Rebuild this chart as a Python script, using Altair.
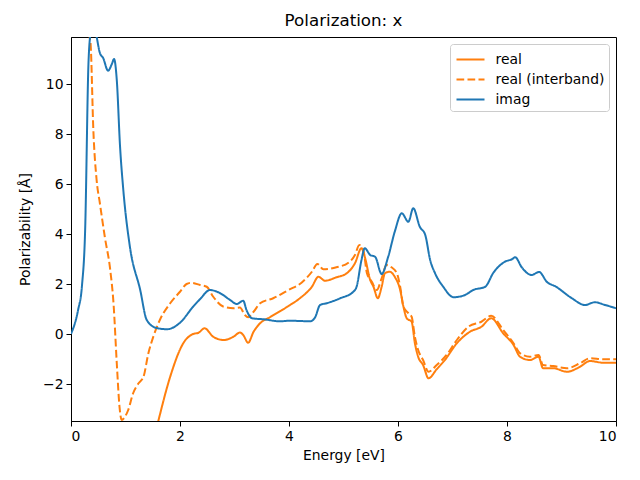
import altair as alt
import pandas as pd

imag_x = [0, 0.13, 0.2, 0.26, 0.32, 0.35, 0.41, 0.47, 0.53, 0.59, 0.68, 0.75, 0.79, 0.84, 0.9, 0.96, 1.08, 1.27, 1.39, 1.57,
          1.76, 2.0, 2.24, 2.37, 2.55, 2.73, 2.92, 3.04, 3.16, 3.22, 3.32, 3.53, 3.83, 4.02, 4.39, 4.48, 4.57, 4.69, 4.94, 5.18,
          5.24, 5.33, 5.39, 5.49, 5.58, 5.7, 5.82, 5.94, 6.07, 6.19, 6.28, 6.4, 6.5, 6.59, 6.68, 6.83, 7.02, 7.23, 7.38, 7.6,
          7.75, 7.96, 8.09, 8.15, 8.27, 8.45, 8.59, 8.73, 8.9, 9.19, 9.43, 9.61, 9.8, 10.0]
imag_y = [0, 0.96, 1.9, 4.2, 10.8, 11.9, 12.6, 11.9, 11.24, 11.04, 10.53, 10.8, 11.0, 10.16, 7.5, 5.76, 3.5, 1.76, 0.56, 0.24,
          0.19, 0.45, 1.09, 1.4, 1.76, 1.64, 1.36, 1.2, 1.33, 0.96, 0.63, 0.59, 0.51, 0.53, 0.51, 0.67, 1.16, 1.23, 1.43, 1.69,
          1.89, 2.96, 3.43, 3.16, 3.09, 2.4, 3.09, 4.09, 4.83, 4.49, 5.03, 4.29, 3.96, 2.96, 2.43, 1.89, 1.47, 1.56, 1.76, 1.89,
          2.45, 2.89, 2.99, 3.07, 2.67, 2.36, 2.48, 2.09, 1.89, 1.43, 1.16, 1.27, 1.16, 1.03]

real_x = [0.6, 1.0, 1.3, 1.5, 1.6, 1.82, 2.06, 2.24, 2.34, 2.45, 2.61, 2.8, 2.98, 3.1, 3.16, 3.25, 3.35, 3.47, 3.65, 3.99,
          4.2, 4.42, 4.54, 4.66, 4.87, 5.06, 5.21, 5.33, 5.39, 5.49, 5.55, 5.63, 5.7, 5.76, 5.85, 5.94, 6.04, 6.1, 6.16, 6.25,
          6.31, 6.37, 6.46, 6.56, 6.71, 6.86, 7.08, 7.32, 7.53, 7.71, 7.93, 8.12, 8.24, 8.42, 8.58, 8.66, 8.85, 9.1, 9.34, 9.52,
          9.77, 10.0]
real_y = [-25, -12, -6.5, -4.4, -3.5, -1.71, -0.37, 0.0, 0.05, 0.23, -0.11, -0.24, -0.11, 0.06, -0.04, -0.35, 0.09, 0.43, 0.67, 1.12,
          1.43, 1.89, 2.29, 2.13, 2.27, 2.43, 2.83, 3.43, 3.09, 2.16, 1.89, 1.43, 1.89, 2.43, 2.49, 2.29, 1.76, 1.09, 0.63, 0.49,
          -0.37, -0.91, -1.24, -1.77, -1.41, -1.04, -0.37, 0.09, 0.29, 0.63, 0.03, -0.44, -0.91, -1.04, -0.91, -1.37, -1.37, -1.51, -1.31, -1.08,
          -1.15, -1.15]

inter_x = [0.0, 0.2, 0.3, 0.34, 0.36, 0.41, 0.47, 0.53, 0.62, 0.72, 0.78, 0.84, 0.89, 0.93, 0.99, 1.05, 1.14, 1.24, 1.33, 1.42,
           1.51, 1.63, 1.82, 2.0, 2.12, 2.21, 2.37, 2.49, 2.61, 2.8, 2.98, 3.1, 3.19, 3.25, 3.35, 3.47, 3.71, 3.99, 4.23, 4.42,
           4.52, 4.63, 4.87, 5.09, 5.21, 5.29, 5.37, 5.43, 5.52, 5.61, 5.7, 5.79, 5.88, 5.98, 6.04, 6.1, 6.19, 6.25, 6.31, 6.37,
           6.46, 6.56, 6.71, 6.89, 7.08, 7.29, 7.53, 7.71, 7.93, 8.12, 8.24, 8.42, 8.58, 8.66, 8.85, 9.1, 9.34, 9.52, 9.77, 10.0]
inter_y = [14.5, 14.0, 13.0, 11.9, 11.6, 8.16, 6.16, 5.23, 3.89, 2.56, 1.23, -1.17, -2.91, -3.44, -3.31, -3.04, -2.37, -1.97, -1.71, -0.77,
           -0.11, 0.56, 1.23, 1.69, 2.0, 2.05, 1.96, 1.89, 1.49, 1.09, 1.03, 1.06, 0.76, 0.67, 0.89, 1.23, 1.43, 1.76, 2.05, 2.49,
           2.8, 2.59, 2.67, 2.85, 3.16, 3.56, 3.29, 2.43, 2.09, 1.76, 2.23, 2.76, 2.67, 2.43, 1.89, 1.09, 0.83, 0.69, -0.11, -0.64,
           -1.04, -1.51, -1.24, -0.84, -0.24, 0.29, 0.49, 0.73, 0.16, -0.37, -0.77, -0.91, -0.84, -1.24, -1.28, -1.37, -1.17, -0.97, -1.01, -1.01]

series = ["real", "real (interband)", "imag"]
colors = ["#ff7f0e", "#ff7f0e", "#1f77b4"]
dashes = [[1, 0], [7.7, 3.3], [1, 0]]

rows = []
for name, xs, ys, order in [("real", real_x, real_y, 0), ("real (interband)", inter_x, inter_y, 1), ("imag", imag_x, imag_y, 2)]:
    for x, y in zip(xs, ys):
        rows.append({"series": name, "energy": x, "pol": y, "ord": order})
df = pd.DataFrame(rows)

FONT = "DejaVu Sans"

chart = alt.Chart(df).mark_line(clip=True, strokeWidth=2, interpolate="monotone").encode(
    x=alt.X("energy:Q", title="Energy [eV]",
            scale=alt.Scale(domain=[0, 10], nice=False, zero=False),
            axis=alt.Axis(values=[0, 2, 4, 6, 8, 10], format="d")),
    y=alt.Y("pol:Q", title="Polarizability [Å]",
            scale=alt.Scale(domain=[-3.48, 11.88], nice=False, zero=False),
            axis=alt.Axis(values=[-2, 0, 2, 4, 6, 8, 10], format="d")),
    color=alt.Color("series:N", title=None,
                    scale=alt.Scale(domain=series, range=colors),
                    legend=alt.Legend(orient="none", legendX=379, legendY=7)),
    strokeDash=alt.StrokeDash("series:N", title=None,
                              scale=alt.Scale(domain=series, range=dashes),
                              legend=alt.Legend(orient="none", legendX=379, legendY=7)),
    order=alt.Order("ord:Q"),
).properties(
    width=545,
    height=384,
    title=alt.Title("Polarization: x", fontSize=16.7, fontWeight="normal", font=FONT, color="black", offset=7),
    padding={"left": 63, "top": 29, "right": 16, "bottom": 51},
    autosize=alt.AutoSizeParams(type="none"),
).configure_view(
    stroke="black", strokeWidth=1
).configure_axis(
    grid=False, domainColor="black", tickColor="black", tickSize=5,
    labelFont=FONT, labelFontSize=13.9, labelColor="black", labelPadding=3,
    titleFont=FONT, titleFontSize=13.9, titleColor="black", titleFontWeight="normal",
).configure_axisX(titlePadding=6).configure_axisY(titlePadding=10).configure_legend(
    symbolType="M-1.4,0H1.4", symbolSize=400, symbolStrokeWidth=2,
    labelFont=FONT, labelFontSize=13.9, labelColor="black",
    strokeColor="#cccccc", fillColor="white", cornerRadius=3, padding=4.5,
    symbolOffset=5, rowPadding=2, labelOffset=14,
)

chart.save("out.html", embed_options={"renderer": "svg", "actions": False})
